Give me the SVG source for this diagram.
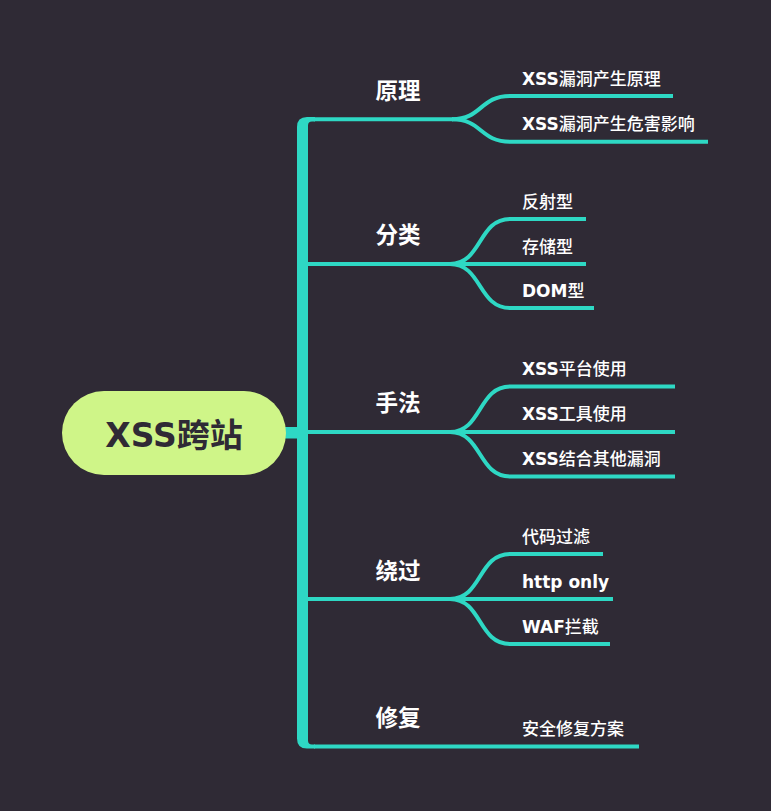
<svg xmlns="http://www.w3.org/2000/svg" width="771" height="811" viewBox="0 0 771 811">
<defs>
<style>
.ln{fill:none;stroke:#2ed8c4;stroke-width:4;stroke-linecap:butt}
.lab{font-family:"Noto Sans CJK SC","Noto Sans",sans-serif;font-weight:bold;font-size:22.5px;fill:#ffffff;text-anchor:middle}
.ch{font-family:"DejaVu Sans","Noto Sans CJK SC",sans-serif;font-size:17px;fill:#ffffff;font-weight:500}
.ch .b{font-weight:bold}
.rt{font-family:"DejaVu Sans","Noto Sans CJK SC",sans-serif;font-weight:bold;font-size:33px;fill:#2f2a35;text-anchor:middle}
</style>
</defs>
<rect x="0" y="0" width="771" height="811" fill="#2f2a35"/>
<g id="connectors">
<rect x="284" y="427" width="14" height="11.5" fill="#2ed8c4"/>
<path d="M297,127 Q297,117 307,117 L315,117 L315,121.5 L312,121.5 Q308,121.5 308,125.5 L308,740.5 Q308,744.5 312,744.5 L315,744.5 L315,748.5 L307,748.5 Q297,748.5 297,738.5 Z" fill="#2ed8c4"/>
<path class="ln" d="M314,119.3 L453,119.3"/>
<path class="ln" d="M452,119.3 C482,119.3 480,96 510,96"/>
<path class="ln" d="M452,119.3 C482,119.3 480,141.7 510,141.7"/>
<path class="ln" d="M308,264 L510,264"/>
<path class="ln" d="M450,264 C482,264 478,219 510,219"/>
<path class="ln" d="M450,264 C482,264 478,308 510,308"/>
<path class="ln" d="M308,432 L510,432"/>
<path class="ln" d="M450,432 C482,432 478,386.5 510,386.5"/>
<path class="ln" d="M450,432 C482,432 478,476.5 510,476.5"/>
<path class="ln" d="M308,599 L510,599"/>
<path class="ln" d="M450,599 C482,599 478,554 510,554"/>
<path class="ln" d="M450,599 C482,599 478,644 510,644"/>
<path class="ln" d="M314,746.5 L510,746.5"/>
</g>
<g id="root">
<rect x="62" y="391" width="224" height="84" rx="42" fill="#cff588"/>
<text class="rt" x="174" y="447">XSS跨站</text>
</g>
<g id="n-yuanli"><text class="lab" x="398" y="99">原理</text></g>
<g id="n-fenlei"><text class="lab" x="398" y="243">分类</text></g>
<g id="n-shoufa"><text class="lab" x="398" y="411">手法</text></g>
<g id="n-raoguo"><text class="lab" x="398" y="579">绕过</text></g>
<g id="n-xiufu"><text class="lab" x="398" y="726">修复</text></g>
<g id="c1"><text class="ch" x="522" y="85"><tspan class="b">XSS</tspan>漏洞产生原理</text><path class="ln" d="M510,96 L673,96"/></g>
<g id="c2"><text class="ch" x="522" y="130"><tspan class="b">XSS</tspan>漏洞产生危害影响</text><path class="ln" d="M510,141.7 L708,141.7"/></g>
<g id="c3"><text class="ch" x="522" y="208">反射型</text><path class="ln" d="M510,219 L586,219"/></g>
<g id="c4"><text class="ch" x="522" y="253">存储型</text><path class="ln" d="M510,264 L586,264"/></g>
<g id="c5"><text class="ch" x="522" y="297"><tspan class="b">DOM</tspan>型</text><path class="ln" d="M510,308 L594,308"/></g>
<g id="c6"><text class="ch" x="522" y="375"><tspan class="b">XSS</tspan>平台使用</text><path class="ln" d="M510,386.5 L675,386.5"/></g>
<g id="c7"><text class="ch" x="522" y="420"><tspan class="b">XSS</tspan>工具使用</text><path class="ln" d="M510,432 L675,432"/></g>
<g id="c8"><text class="ch" x="522" y="465"><tspan class="b">XSS</tspan>结合其他漏洞</text><path class="ln" d="M510,476.5 L675,476.5"/></g>
<g id="c9"><text class="ch" x="522" y="543">代码过滤</text><path class="ln" d="M510,554 L603,554"/></g>
<g id="c10"><text class="ch" x="522" y="588"><tspan class="b">http only</tspan></text><path class="ln" d="M510,599 L613,599"/></g>
<g id="c11"><text class="ch" x="522" y="633"><tspan class="b">WAF</tspan>拦截</text><path class="ln" d="M510,644 L610,644"/></g>
<g id="c12"><text class="ch" x="522" y="735">安全修复方案</text><path class="ln" d="M510,746.5 L639,746.5"/></g>
</svg>
